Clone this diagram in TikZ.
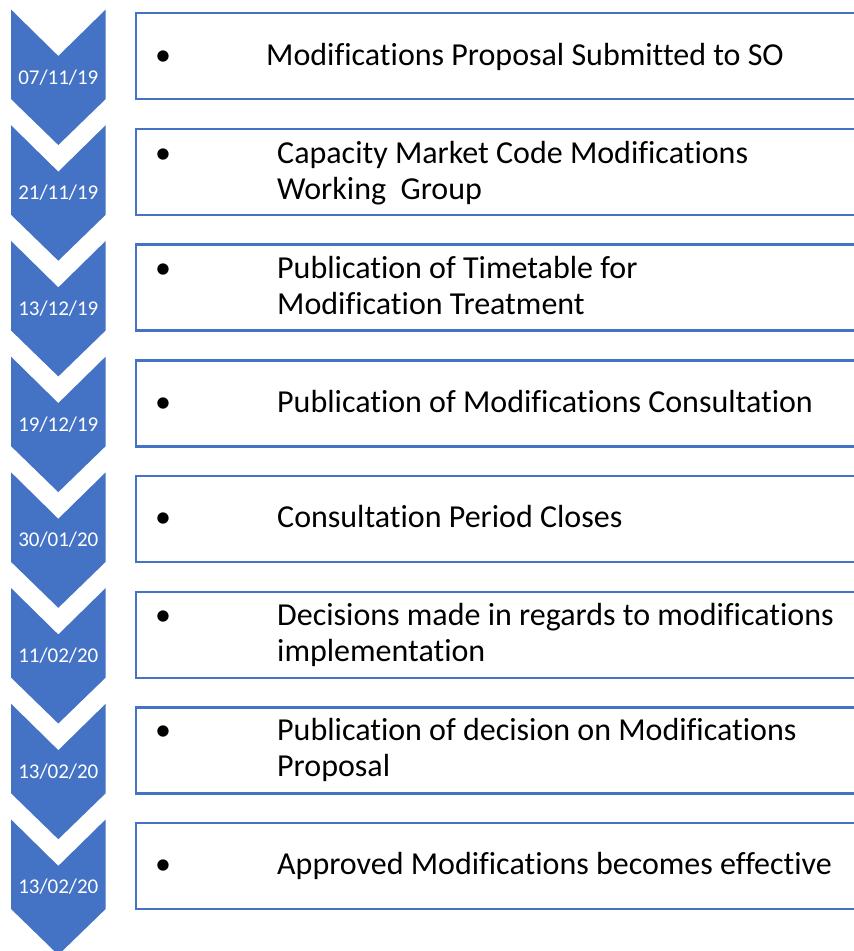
\documentclass[tikz,border=0pt]{standalone}
\usepackage{fontspec}
\setmainfont{Carlito}[Ligatures=NoCommon]
\definecolor{stepblue}{HTML}{4472C4}

\begin{document}
\begin{tikzpicture}[x=1pt,y=-1pt,
    chev/.style={fill=stepblue},
    stepbox/.style={draw=stepblue,line width=2.4pt,anchor=north west,minimum width=740,minimum height=86},
    datelbl/.style={text=white,anchor=base,inner sep=0pt,font=\fontsize{21}{25}\selectfont},
    bul/.style={anchor=base,inner sep=0pt,font=\fontsize{32}{36}\selectfont},
    itemtxt/.style={anchor=base west,align=left,inner sep=0pt,font=\fontsize{32}{36}\selectfont}]
\useasboundingbox (0,0) rectangle (854,951);
\clip (0,0) rectangle (854,951);
\foreach \i/\d in {0/{07/11/19},1/{21/11/19},2/{13/12/19},3/{19/12/19},4/{30/01/20},5/{11/02/20},6/{13/02/20},7/{13/02/20}}
{   \fill[chev] (11,9.5+115.7*\i) -- (58.3,56+115.7*\i) -- (105.7,9.5+115.7*\i) -- (105.7,99+115.7*\i)
        -- (58.3,145+115.7*\i) -- (11,99+115.7*\i) -- cycle;
    \node[datelbl] (d\i) at (58.3,84+115.7*\i) {\d};
    \node[stepbox] (b\i) at (135,12+115.7*\i) {};
}
\node[bul] (p0) at (163, 65.0) {•};
\node[bul] (p1) at (163,163.2) {•};
\node[bul] (p2) at (163,278.9) {•};
\node[bul] (p3) at (163,412.1) {•};
\node[bul] (p4) at (163,527.8) {•};
\node[bul] (p5) at (163,625.0) {•};
\node[bul] (p6) at (163,740.7) {•};
\node[bul] (p7) at (163,874.9) {•};
\node[itemtxt] (t0) at (266, 65.0) {Modifications Proposal Submitted to SO};
\node[itemtxt] (t1) at (277,199.2) {Capacity Market Code Modifications\\Working\ \ Group};
\node[itemtxt] (t2) at (277,314.9) {Publication of Timetable for\\Modification Treatment};
\node[itemtxt] (t3) at (277,412.1) {Publication of Modifications Consultation};
\node[itemtxt] (t4) at (277,527.8) {Consultation Period Closes};
\node[itemtxt] (t5) at (277,661.0) {Decisions made in regards to modifications\\implementation};
\node[itemtxt] (t6) at (277,776.7) {Publication of decision on Modifications\\Proposal};
\node[itemtxt] (t7) at (277,874.9) {Approved Modifications becomes effective};
\end{tikzpicture}
\end{document}
